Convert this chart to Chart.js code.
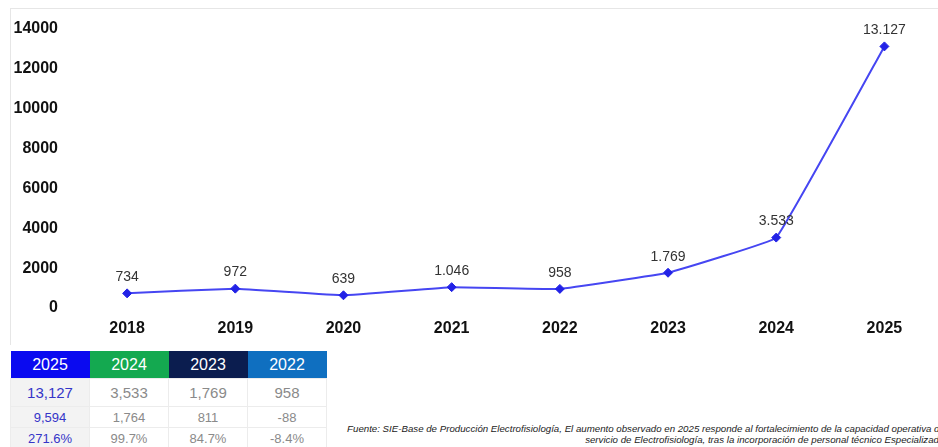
<!DOCTYPE html>
<html>
<head>
<meta charset="utf-8">
<script src="https://cdn.jsdelivr.net/npm/chart.js@4.4.1/dist/chart.umd.min.js"></script>
<style>
  html, body { margin: 0; padding: 0; background: #fff; }
  body { width: 938px; height: 447px; position: relative; overflow: hidden; font-family: "Liberation Sans", Arial, sans-serif; }
  #frameTop { position: absolute; left: 10px; top: 8px; width: 928px; height: 1px; background: #e6e6e6; }
  #frameLeft { position: absolute; left: 10px; top: 8px; width: 1px; height: 337px; background: #e6e6e6; }
  #chartBox { position: absolute; left: 0; top: 0; width: 944px; height: 345px; }
  table.resumen { position: absolute; left: 10px; top: 351px; border-collapse: collapse; table-layout: fixed; width: 316px; }
  table.resumen th, table.resumen td { width: 79px; text-align: center; padding: 0; }
  table.resumen th { height: 27px; color: #fff; font-weight: normal; font-size: 16px; }
  table.resumen td { color: #8a8a8a; border: 1px solid #ececec; }
  table.resumen tr.r1 td { height: 27px; font-size: 15px; }
  table.resumen tr.r2 td { height: 20px; font-size: 13px; }
  table.resumen tr.r3 td { height: 20px; font-size: 13px; }
  table.resumen td.first { color: #3535c8; background: #f3f3f3; }
  #nota { position: absolute; left: 247px; width: 700px; top: 424px; text-align: right; font-style: italic; font-size: 9.7px; line-height: 10.5px; color: #222; white-space: nowrap; }
</style>
</head>
<body>
<div id="frameTop"></div>
<div id="frameLeft"></div>
<div id="chartBox"><canvas id="grafico"></canvas></div>
<table class="resumen" id="tabla"></table>
<div id="nota">Fuente: SIE-Base de Producción Electrofisiología, El aumento observado en 2025 responde al fortalecimiento de la capacidad operativa del<br>servicio de Electrofisiología, tras la incorporación de personal técnico Especializado.</div>
<script>
// Estudios de electrofisiología por año
const anios = ['2018', '2019', '2020', '2021', '2022', '2023', '2024', '2025'];
const estudios = [734, 972, 639, 1046, 958, 1769, 3533, 13127];
const marcasY = [0, 2000, 4000, 6000, 8000, 10000, 12000, 14000];

// Resumen comparativo
const aniosTabla = ['2025', '2024', '2023', '2022'];
const coloresTabla = ['#0a0af0', '#14a950', '#0b1d4f', '#0f6fc0'];
const totalesTabla = ['13,127', '3,533', '1,769', '958'];
const diferencias = ['9,594', '1,764', '811', '-88'];
const variaciones = ['271.6%', '99.7%', '84.7%', '-8.4%'];

function miles(v) {
  return String(v).replace(/\B(?=(\d{3})+(?!\d))/g, '.');
}

// Etiquetas de valor sobre cada punto
const etiquetasValor = {
  id: 'etiquetasValor',
  afterDatasetsDraw(chart) {
    const ctx = chart.ctx;
    const meta = chart.getDatasetMeta(0);
    ctx.save();
    ctx.font = '14px "Liberation Sans", Arial, sans-serif';
    ctx.fillStyle = '#333';
    ctx.textAlign = 'center';
    ctx.textBaseline = 'middle';
    meta.data.forEach((pt, i) => {
      ctx.fillText(miles(chart.data.datasets[0].data[i]), pt.x, pt.y - 16);
    });
    ctx.restore();
  }
};

new Chart(document.getElementById('grafico'), {
  type: 'line',
  data: {
    labels: anios,
    datasets: [{
      data: estudios,
      borderColor: '#4646f2',
      borderWidth: 2,
      tension: 0.06,
      pointStyle: 'rectRot',
      pointRadius: 4.5,
      pointBackgroundColor: '#2222e6',
      pointBorderColor: '#2222e6',
      pointBorderWidth: 1,
      fill: false
    }]
  },
  options: {
    responsive: true,
    maintainAspectRatio: false,
    animation: false,
    layout: { padding: { top: 29, left: 0, right: 1, bottom: 0 } },
    plugins: { legend: { display: false }, tooltip: { enabled: false } },
    scales: {
      x: {
        offset: true,
        grid: { display: false, drawTicks: false },
        border: { display: false },
        ticks: { color: '#111', padding: 11, font: { family: '"Liberation Sans", Arial, sans-serif', size: 16, weight: 'bold' } },
        afterFit(s) { s.height = 37; }
      },
      y: {
        min: 0,
        max: 14000,
        afterBuildTicks(s) { s.ticks = marcasY.map(v => ({ value: v })); },
        grid: { display: false, drawTicks: false },
        border: { display: false },
        ticks: { color: '#111', padding: 15, font: { family: '"Liberation Sans", Arial, sans-serif', size: 16, weight: 'bold' }, callback: v => String(v) },
        afterFit(s) { s.width = 73; }
      }
    }
  },
  plugins: [etiquetasValor]
});

// Tabla de resumen
const tabla = document.getElementById('tabla');
let html = '<tr>' + aniosTabla.map((a, i) => `<th style="background:${coloresTabla[i]}">${a}</th>`).join('') + '</tr>';
[[totalesTabla, 'r1'], [diferencias, 'r2'], [variaciones, 'r3']].forEach(([fila, cls]) => {
  html += `<tr class="${cls}">` + fila.map((v, i) => `<td${i === 0 ? ' class="first"' : ''}>${v}</td>`).join('') + '</tr>';
});
tabla.innerHTML = html;
</script>
</body>
</html>
